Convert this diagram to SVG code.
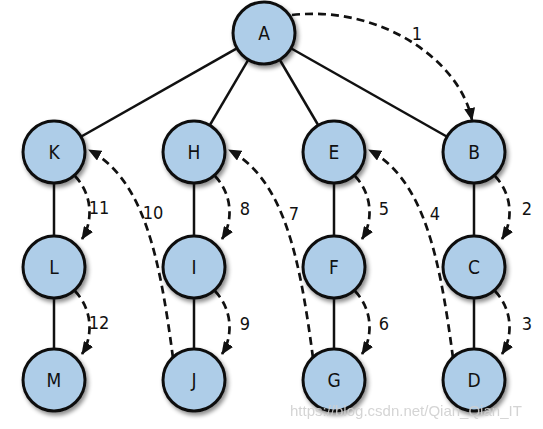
<svg xmlns="http://www.w3.org/2000/svg" width="543" height="429" viewBox="0 0 543 429">
<defs>
<filter id="sh" x="-30%" y="-30%" width="170%" height="170%">
<feDropShadow dx="2" dy="3" stdDeviation="2" flood-color="#000" flood-opacity="0.45"/>
</filter>
<marker id="ah" viewBox="0 0 13 11" refX="12" refY="5.5" markerWidth="13" markerHeight="11" markerUnits="userSpaceOnUse" orient="auto">
<path d="M0,0 L13,5.5 L0,11 Z" fill="#111"/>
</marker>
<style>
.node circle{fill:#aecde8;stroke:#111;stroke-width:3;filter:url(#sh)}
.node text{font-family:"Liberation Sans Narrow","DejaVu Sans Condensed","Liberation Sans",sans-serif;font-size:19px;fill:#111;text-anchor:middle}
.edge{stroke:#111;stroke-width:2.5;fill:none}
.dash{stroke:#111;stroke-width:2.7;fill:none;stroke-dasharray:8 5;marker-end:url(#ah)}
.lbl{font-family:"Liberation Sans Narrow","DejaVu Sans Condensed","Liberation Sans",sans-serif;font-size:18px;fill:#111;text-anchor:middle}
.wm{font-family:"Liberation Sans",Arial,sans-serif;font-size:15px;fill:#d0d0d0;opacity:0.9}
</style>
</defs>
<rect width="543" height="429" fill="#fff"/>
<g id="connectors">
<line class="edge" x1="264" y1="33" x2="54" y2="152"/>
<line class="edge" x1="264" y1="33" x2="194" y2="152"/>
<line class="edge" x1="264" y1="33" x2="334" y2="152"/>
<line class="edge" x1="264" y1="33" x2="474" y2="152"/>
<line class="edge" x1="54" y1="152" x2="54" y2="380"/>
<line class="edge" x1="194" y1="152" x2="194" y2="380"/>
<line class="edge" x1="334" y1="152" x2="334" y2="380"/>
<line class="edge" x1="474" y1="152" x2="474" y2="380"/>
<path class="dash" d="M292,15 C380,5 460,60 472,120"/>
<path class="dash" d="M495,176 C513,195 513,222 502,239"/>
<path class="dash" d="M495,291 C513,310 513,337 502,354"/>
<path class="dash" d="M453,358 C440,260 425,180 369,150"/>
<path class="dash" d="M355,176 C373,195 373,222 362,239"/>
<path class="dash" d="M355,291 C373,310 373,337 362,354"/>
<path class="dash" d="M313,358 C300,260 285,180 229,150"/>
<path class="dash" d="M215,176 C233,195 233,222 222,239"/>
<path class="dash" d="M215,291 C233,310 233,337 222,354"/>
<path class="dash" d="M173,358 C160,260 145,180 89,150"/>
<path class="dash" d="M75,176 C93,195 93,222 82,239"/>
<path class="dash" d="M75,291 C93,310 93,337 82,354"/>
<text class="lbl" x="417" y="40">1</text>
<text class="lbl" x="527" y="215">2</text>
<text class="lbl" x="527" y="330">3</text>
<text class="lbl" x="435" y="220">4</text>
<text class="lbl" x="384" y="215">5</text>
<text class="lbl" x="384" y="330">6</text>
<text class="lbl" x="294" y="220">7</text>
<text class="lbl" x="245" y="215">8</text>
<text class="lbl" x="245" y="330">9</text>
<text class="lbl" x="153" y="219">10</text>
<text class="lbl" x="99" y="214">11</text>
<text class="lbl" x="99" y="329">12</text>
</g>
<g id="node-A" class="node"><circle cx="264" cy="33" r="31"/><text x="264" y="40">A</text></g>
<g id="node-K" class="node"><circle cx="54" cy="152" r="31"/><text x="54" y="159">K</text></g>
<g id="node-H" class="node"><circle cx="194" cy="152" r="31"/><text x="194" y="159">H</text></g>
<g id="node-E" class="node"><circle cx="334" cy="152" r="31"/><text x="334" y="159">E</text></g>
<g id="node-B" class="node"><circle cx="474" cy="152" r="31"/><text x="474" y="159">B</text></g>
<g id="node-L" class="node"><circle cx="54" cy="267" r="31"/><text x="54" y="274">L</text></g>
<g id="node-I" class="node"><circle cx="194" cy="267" r="31"/><text x="194" y="274">I</text></g>
<g id="node-F" class="node"><circle cx="334" cy="267" r="31"/><text x="334" y="274">F</text></g>
<g id="node-C" class="node"><circle cx="474" cy="267" r="31"/><text x="474" y="274">C</text></g>
<g id="node-M" class="node"><circle cx="54" cy="380" r="31"/><text x="54" y="387">M</text></g>
<g id="node-J" class="node"><circle cx="194" cy="380" r="31"/><text x="194" y="387">J</text></g>
<g id="node-G" class="node"><circle cx="334" cy="380" r="31"/><text x="334" y="387">G</text></g>
<g id="node-D" class="node"><circle cx="474" cy="380" r="31"/><text x="474" y="387">D</text></g>
<text class="wm" x="290" y="416">https://blog.csdn.net/Qian_Qian_IT</text>
</svg>
